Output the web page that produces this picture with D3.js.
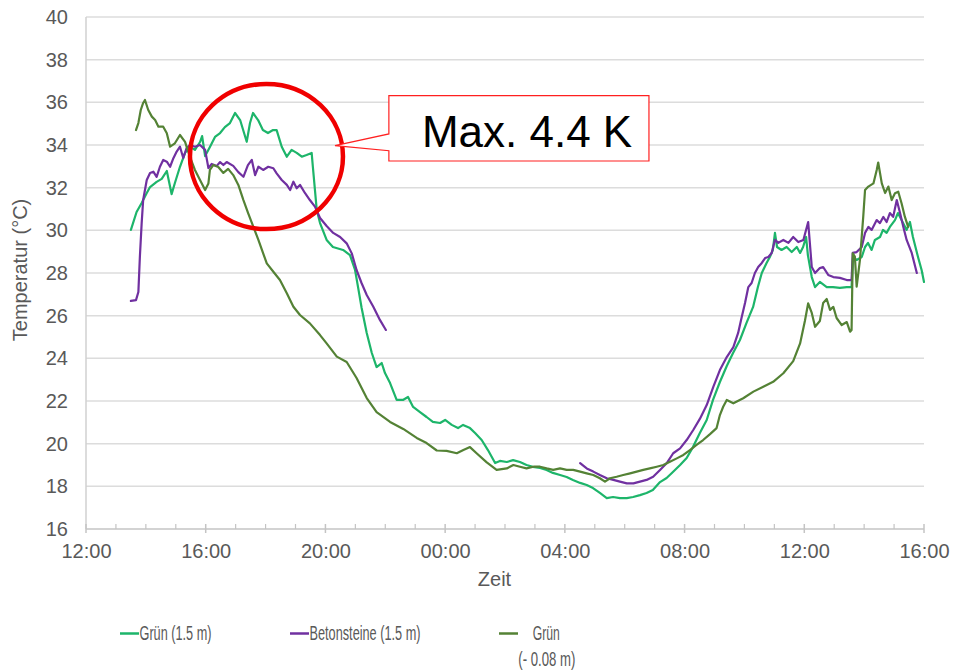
<!DOCTYPE html>
<html>
<head>
<meta charset="utf-8">
<script src="https://cdn.jsdelivr.net/npm/d3@7"></script>
<style>
  html, body { margin: 0; padding: 0; background: #fff; }
  svg { display: block; }
  text { font-family: "Liberation Sans", Arial, sans-serif; }
</style>
</head>
<body>
<svg id="chart" width="953" height="670"></svg>
<script>
// Time in hours from day 1 00:00 (values > 24 are the following day)
const xTicks = [12, 16, 20, 24, 28, 32, 36, 40];
const yTicks = [16, 18, 20, 22, 24, 26, 28, 30, 32, 34, 36, 38, 40];

const seriesNames = ["Grün (1.5 m)", "Betonsteine (1.5 m)", "Grün", "(- 0.08 m)"];

const gruen15 = [
[13.50,30.02],[13.69,30.86],[13.86,31.28],[14.03,31.75],[14.14,32.03],[14.36,32.27],[14.53,32.41],[14.70,32.78],
[14.86,31.70],[14.97,32.22],[15.14,32.98],[15.31,33.63],[15.47,33.91],[15.64,33.77],[15.81,34.14],[15.88,34.42],
[15.98,33.48],[16.14,33.91],[16.31,34.38],[16.48,34.56],[16.64,34.84],[16.81,35.03],[16.98,35.50],[17.15,35.17],
[17.37,34.15],[17.48,35.03],[17.58,35.50],[17.75,35.17],[17.91,34.70],[18.08,34.56],[18.25,34.70],[18.37,34.70],
[18.54,33.92],[18.71,33.45],[18.87,33.77],[19.04,33.63],[19.21,33.45],[19.37,33.53],[19.54,33.63],[19.58,32.98],
[19.71,30.95],[19.82,30.34],[20.04,29.55],[20.25,29.22],[20.59,29.08],[20.82,28.84],[20.99,28.14],[21.09,27.34],
[21.21,26.36],[21.38,25.19],[21.55,24.25],[21.71,23.59],[21.88,23.78],[21.99,23.31],[22.16,22.84],[22.38,22.05],
[22.59,22.05],[22.76,22.19],[22.93,21.72],[23.16,21.48],[23.38,21.25],[23.59,21.02],[23.83,20.97],[24.00,21.11],
[24.22,20.88],[24.43,20.73],[24.60,20.88],[24.83,20.73],[25.00,20.50],[25.22,20.17],[25.43,19.70],[25.67,19.09],
[25.83,19.19],[26.06,19.14],[26.27,19.23],[26.50,19.14],[26.72,19.00],[26.93,18.91],[27.17,18.86],[27.39,18.77],
[27.60,18.63],[27.84,18.53],[28.06,18.44],[28.27,18.30],[28.51,18.16],[28.73,18.06],[28.94,17.92],[29.17,17.69],
[29.40,17.45],[29.61,17.50],[29.84,17.45],[30.07,17.45],[30.28,17.50],[30.51,17.59],[30.73,17.69],[30.94,17.83],
[31.18,18.20],[31.40,18.39],[31.61,18.67],[31.85,19.00],[32.07,19.33],[32.28,19.84],[32.51,20.50],[32.74,21.11],
[32.95,22.05],[33.18,22.89],[33.41,23.64],[33.62,24.25],[33.85,24.86],[34.07,25.66],[34.29,26.41],[34.45,27.34],
[34.58,28.00],[34.74,28.47],[34.85,28.75],[34.95,29.08],[35.02,29.88],[35.09,29.22],[35.24,29.08],[35.41,29.22],
[35.58,28.98],[35.75,29.22],[35.86,28.94],[35.96,29.22],[36.06,29.69],[36.12,28.84],[36.25,27.81],[36.36,27.34],
[36.52,27.58],[36.75,27.34],[36.96,27.34],[37.19,27.30],[37.42,27.34],[37.58,27.34],[37.63,28.75],[37.75,28.61],
[37.92,28.75],[38.03,29.22],[38.13,29.41],[38.25,29.08],[38.36,29.55],[38.53,29.69],[38.63,30.02],[38.75,29.88],
[38.86,30.16],[39.03,30.48],[39.13,30.81],[39.25,30.48],[39.42,30.02],[39.53,30.39],[39.63,29.69],[39.80,28.75],
[39.92,28.14],[40.00,27.58]
];

const beton15 = [
[13.50,26.69],[13.67,26.73],[13.75,27.11],[13.80,28.75],[13.86,30.34],[13.91,31.42],[14.03,32.36],[14.14,32.69],
[14.25,32.75],[14.36,32.51],[14.47,32.98],[14.58,33.30],[14.70,33.22],[14.81,32.98],[14.92,33.38],[15.03,33.69],
[15.14,33.92],[15.25,33.39],[15.36,33.85],[15.47,34.00],[15.64,33.92],[15.81,34.00],[15.98,33.77],[16.09,32.92],
[16.20,33.11],[16.37,33.02],[16.48,33.20],[16.59,33.06],[16.70,33.20],[16.92,33.02],[17.09,32.73],[17.26,32.51],
[17.41,33.06],[17.54,33.30],[17.65,32.59],[17.76,32.98],[17.92,32.83],[18.09,32.98],[18.26,32.91],[18.37,32.67],
[18.54,32.36],[18.71,32.13],[18.82,31.89],[18.93,32.28],[19.04,31.97],[19.15,32.13],[19.32,31.74],[19.48,31.42],
[19.65,31.11],[19.82,30.58],[20.04,30.20],[20.26,29.88],[20.49,29.69],[20.71,29.39],[20.88,28.92],[21.04,28.14],
[21.21,27.52],[21.38,26.97],[21.60,26.42],[21.82,25.80],[22.02,25.33],
[25.00,null],
[28.51,19.09],[28.73,18.84],[28.95,18.69],[29.17,18.53],[29.40,18.38],[29.62,18.30],[29.84,18.22],[30.07,18.14],
[30.29,18.14],[30.51,18.22],[30.73,18.30],[30.95,18.45],[31.18,18.77],[31.40,19.08],[31.62,19.55],[31.85,19.78],
[32.07,20.17],[32.29,20.64],[32.51,21.16],[32.74,21.81],[32.96,22.66],[33.18,23.45],[33.41,24.06],[33.63,24.53],
[33.79,25.19],[33.91,25.94],[34.02,26.59],[34.13,27.34],[34.24,27.53],[34.35,28.00],[34.46,28.28],[34.58,28.47],
[34.69,28.70],[34.80,28.75],[34.91,28.94],[35.02,29.55],[35.13,29.41],[35.30,29.55],[35.47,29.41],[35.63,29.69],
[35.80,29.45],[35.97,29.55],[36.13,30.39],[36.25,28.28],[36.36,28.00],[36.52,28.23],[36.63,28.28],[36.80,27.91],
[36.97,27.81],[37.19,27.77],[37.42,27.67],[37.58,27.67],[37.62,28.94],[37.75,28.98],[37.92,29.22],[38.03,29.88],
[38.14,30.16],[38.25,30.02],[38.42,30.48],[38.53,30.34],[38.64,30.63],[38.75,30.39],[38.86,30.81],[38.97,30.63],
[39.09,31.42],[39.20,30.81],[39.31,30.16],[39.42,29.55],[39.59,28.94],[39.76,28.00]
];

const gruen008 = [
[13.67,34.70],[13.75,35.03],[13.83,35.64],[13.91,35.97],[13.97,36.11],[14.08,35.64],[14.20,35.33],[14.31,35.17],
[14.42,34.86],[14.58,34.86],[14.70,34.55],[14.81,33.92],[14.97,34.08],[15.14,34.47],[15.31,34.15],[15.47,33.45],
[15.64,32.83],[15.81,32.36],[15.98,31.89],[16.09,32.20],[16.14,32.83],[16.25,33.06],[16.42,32.97],[16.59,32.69],
[16.75,32.88],[16.92,32.59],[17.09,32.13],[17.26,31.42],[17.42,30.80],[17.59,30.17],[17.76,29.55],[17.92,28.92],
[18.04,28.45],[18.26,28.06],[18.48,27.67],[18.71,27.05],[18.93,26.42],[19.15,26.03],[19.48,25.64],[19.82,25.09],
[20.04,24.70],[20.38,24.08],[20.71,23.83],[21.04,23.08],[21.38,22.14],[21.71,21.48],[22.16,21.02],[22.60,20.69],
[23.05,20.27],[23.38,20.03],[23.72,19.68],[24.05,19.66],[24.39,19.55],[24.61,19.70],[24.83,19.84],[25.05,19.55],
[25.39,19.12],[25.72,18.77],[26.06,18.84],[26.28,19.00],[26.50,18.92],[26.72,18.84],[26.95,18.92],[27.17,18.92],
[27.39,18.84],[27.61,18.77],[27.84,18.84],[28.06,18.77],[28.28,18.77],[28.51,18.69],[28.73,18.61],[28.95,18.53],
[29.17,18.38],[29.34,18.22],[29.51,18.38],[29.73,18.45],[29.95,18.53],[30.18,18.61],[30.40,18.69],[30.62,18.77],
[30.84,18.84],[31.07,18.92],[31.29,19.00],[31.51,19.15],[31.74,19.31],[31.96,19.47],[32.18,19.70],[32.40,19.94],
[32.62,20.17],[32.85,20.45],[33.07,20.73],[33.18,21.34],[33.29,21.73],[33.41,22.05],[33.63,21.89],[33.96,22.13],
[34.30,22.44],[34.63,22.67],[34.96,22.90],[35.30,23.30],[35.63,23.87],[35.86,24.70],[36.02,25.75],[36.13,26.58],
[36.25,26.13],[36.36,25.48],[36.52,25.75],[36.63,26.59],[36.75,26.78],[36.86,26.27],[36.97,26.41],[37.08,25.89],
[37.25,25.56],[37.42,25.70],[37.53,25.25],[37.58,25.33],[37.62,28.92],[37.69,28.77],[37.75,27.36],[37.86,28.61],
[37.97,30.64],[38.03,31.89],[38.14,32.05],[38.31,32.20],[38.42,32.83],[38.47,33.18],[38.59,32.20],[38.70,31.75],
[38.81,32.05],[38.92,31.42],[39.03,31.74],[39.14,31.81],[39.25,31.27],[39.36,30.64],[39.47,30.16]
];

// annotation (in data units)
const annCircle = { t: 18.03, v: 33.46, rt: 2.556, rv: 3.40 };
const annBox = { t0: 22.12, t1: 30.81, v0: 36.31, v1: 33.25, tipT: 20.32, tipV: 33.97, baseV0: 34.52, baseV1: 33.73 };
const annText = "Max. 4.4 K";

const colors = ["#1db56a", "#7030a0", "#548235"];

const svg = d3.select("#chart");
svg.append("rect").attr("width", 953).attr("height", 670).attr("fill", "#fff");

const margin = { left: 86, right: 924, top: 17, bottom: 529 };
const x = d3.scaleLinear().domain([12, 40]).range([margin.left, margin.right]);
const y = d3.scaleLinear().domain([16, 40]).range([margin.bottom, margin.top]);

// gridlines
svg.append("g").selectAll("line").data(yTicks.filter(d => d > 16)).join("line")
  .attr("x1", x(12)).attr("x2", x(40))
  .attr("y1", d => y(d)).attr("y2", d => y(d))
  .attr("stroke", "#dcdcdc").attr("stroke-width", 1.5);

// left axis line
svg.append("line").attr("x1", x(12)).attr("x2", x(12)).attr("y1", y(40)).attr("y2", y(16))
  .attr("stroke", "#d0d0d0").attr("stroke-width", 1.5);
// bottom axis line
svg.append("line").attr("x1", x(12)).attr("x2", x(40)).attr("y1", y(16)).attr("y2", y(16))
  .attr("stroke", "#c4c4c4").attr("stroke-width", 1.5);

// minor ticks each hour, major ticks every 4h
const minorTicks = d3.range(12, 41, 1).filter(h => !xTicks.includes(h));
svg.append("g").selectAll("line").data(minorTicks).join("line")
  .attr("x1", d => x(d)).attr("x2", d => x(d))
  .attr("y1", y(16) - 5).attr("y2", y(16))
  .attr("stroke", "#c4c4c4").attr("stroke-width", 1.2);
svg.append("g").selectAll("line").data(xTicks).join("line")
  .attr("x1", d => x(d)).attr("x2", d => x(d))
  .attr("y1", y(16) - 5).attr("y2", y(16) + 4)
  .attr("stroke", "#c4c4c4").attr("stroke-width", 1.5);

// axes labels via d3 axes
const fmt = h => String(h % 24).padStart(2, "0") + ":00";
const xAxis = svg.append("g").attr("transform", `translate(0,${y(16)})`)
  .call(d3.axisBottom(x).tickValues(xTicks).tickFormat(fmt).tickSize(0).tickPadding(15));
xAxis.select(".domain").remove();
xAxis.selectAll("text").attr("font-size", 20).attr("fill", "#595959")
  .attr("font-family", "Liberation Sans, Arial, sans-serif");

const yAxis = svg.append("g").attr("transform", `translate(${x(12)},0)`)
  .call(d3.axisLeft(y).tickValues(yTicks).tickFormat(d3.format("d")).tickSize(0).tickPadding(18));
yAxis.select(".domain").remove();
yAxis.selectAll("text").attr("font-size", 20).attr("fill", "#595959")
  .attr("font-family", "Liberation Sans, Arial, sans-serif");

// axis titles
svg.append("text").attr("transform", "translate(27,270) rotate(-90)")
  .attr("text-anchor", "middle").attr("font-size", 20).attr("fill", "#595959")
  .text("Temperatur (°C)");
svg.append("text").attr("x", 494.5).attr("y", 586)
  .attr("text-anchor", "middle").attr("font-size", 20).attr("fill", "#595959")
  .text("Zeit");

// lines
const line = d3.line().defined(d => d[1] != null).x(d => x(d[0])).y(d => y(d[1]));
[gruen15, beton15, gruen008].forEach((s, i) => {
  svg.append("path").datum(s).attr("d", line)
    .attr("fill", "none").attr("stroke", colors[i]).attr("stroke-width", 2.2)
    .attr("stroke-linejoin", "round").attr("stroke-linecap", "round");
});

// annotation circle
svg.append("ellipse")
  .attr("cx", x(annCircle.t)).attr("cy", y(annCircle.v))
  .attr("rx", x(annCircle.t + annCircle.rt) - x(annCircle.t))
  .attr("ry", y(annCircle.v - annCircle.rv) - y(annCircle.v))
  .attr("fill", "none").attr("stroke", "#f00000").attr("stroke-width", 4.5);

// callout box
const bx0 = x(annBox.t0), bx1 = x(annBox.t1), by0 = y(annBox.v0), by1 = y(annBox.v1);
const p = d3.path();
p.moveTo(bx0, by0); p.lineTo(bx1, by0); p.lineTo(bx1, by1); p.lineTo(bx0, by1);
p.lineTo(bx0, y(annBox.baseV1)); p.lineTo(x(annBox.tipT), y(annBox.tipV));
p.lineTo(bx0, y(annBox.baseV0)); p.closePath();
svg.append("path").attr("d", p.toString()).attr("fill", "#fff")
  .attr("stroke", "#ff2020").attr("stroke-width", 1.2);
svg.append("text").attr("x", bx0 + 33).attr("y", by0 + 51)
  .attr("font-size", 44).attr("fill", "#000").text(annText);

// legend
const legend = [
  { c: colors[0], lx: 120, tx: 139.5, w: 72, t: seriesNames[0] },
  { c: colors[1], lx: 290, tx: 309.5, w: 111, t: seriesNames[1] },
  { c: colors[2], lx: 499, tx: 532.7, w: 27, t: seriesNames[2] }
];
const lg = svg.append("g");
legend.forEach(d => {
  lg.append("line").attr("x1", d.lx).attr("x2", d.lx + 19).attr("y1", 633.5).attr("y2", 633.5)
    .attr("stroke", d.c).attr("stroke-width", 2.5);
  lg.append("text").attr("x", d.tx).attr("y", 640).attr("font-size", 20.5).attr("fill", "#595959")
    .attr("textLength", d.w).attr("lengthAdjust", "spacingAndGlyphs").text(d.t);
});
lg.append("text").attr("x", 518.3).attr("y", 665.5).attr("font-size", 20.5).attr("fill", "#595959")
  .attr("textLength", 57).attr("lengthAdjust", "spacingAndGlyphs").text(seriesNames[3]);
</script>
</body>
</html>
